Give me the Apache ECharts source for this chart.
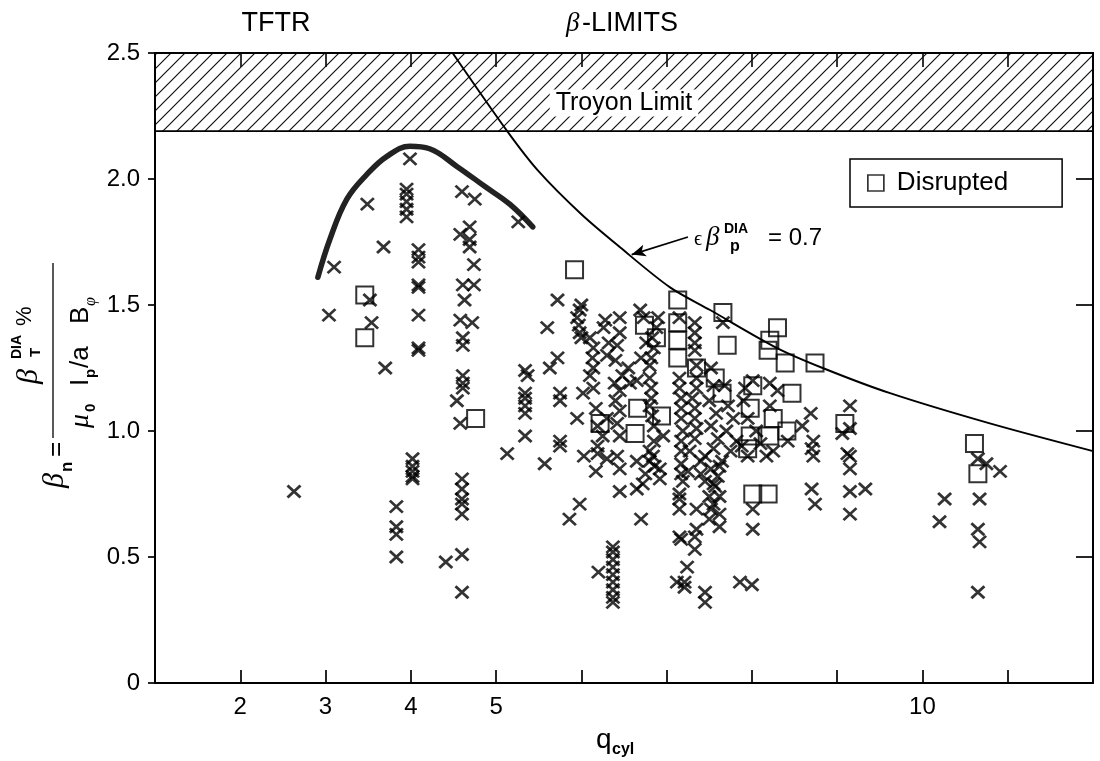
<!DOCTYPE html>
<html><head><meta charset="utf-8">
<script src="https://cdn.jsdelivr.net/npm/echarts/dist/echarts.min.js"></script>
<style>html,body{margin:0;padding:0;background:#fff}#c{width:1100px;height:761px}</style>
</head><body><div id="c"></div>
<script>
const FONT = '"Liberation Sans", Arial, Helvetica, sans-serif';
const SERIF = '"Liberation Serif", "Times New Roman", serif';
const INK = '#000000';

// ---- data ----
const xLabelValues = [2, 3, 4, 5, 10];
const troyonBand = [2.19, 2.5];
const epsCurve = [[4.49,2.50],[5.13,2.19],[5.50,2.03],[6.00,1.86],[6.45,1.73],[7.04,1.57],[7.51,1.48],[8.29,1.33],[8.83,1.25],[9.62,1.15],[10.79,1.03],[12.0,0.92]];
const thickCurve = [[2.91,1.61],[3.05,1.76],[3.25,1.92],[3.49,2.02],[3.72,2.09],[3.99,2.13],[4.22,2.12],[4.54,2.05],[4.87,1.97],[5.16,1.90],[5.43,1.81]];
const arrowTail = [7.25, 1.77];
const arrowTip = [6.59, 1.70];

const crossesLow = [
[2.63,0.76],[3.10,1.65],[3.04,1.46],[3.49,1.90],[3.68,1.73],[3.52,1.52],[3.54,1.43],[3.70,1.25],
[3.83,0.70],[3.83,0.62],[3.83,0.59],[3.83,0.50],
[3.99,2.08],[3.95,1.96],[3.95,1.94],[3.95,1.91],[3.95,1.88],[3.95,1.85],
[4.09,1.72],[4.09,1.69],[4.09,1.67],[4.09,1.58],[4.09,1.57],[4.09,1.46],[4.09,1.33],[4.09,1.32],
[4.02,0.89],[4.02,0.86],[4.02,0.84],[4.02,0.82],[4.02,0.81],
[4.41,0.48],
[4.60,1.95],[4.75,1.92],[4.69,1.81],[4.58,1.78],[4.69,1.76],[4.69,1.73],[4.74,1.66],[4.61,1.58],[4.74,1.58],[4.63,1.52],[4.58,1.44],[4.72,1.43],[4.61,1.37],[4.61,1.34],[4.61,1.22],[4.61,1.19],[4.61,1.17],[4.54,1.12],[4.58,1.03],
[4.60,0.81],[4.60,0.77],[4.60,0.73],[4.60,0.71],[4.60,0.67],[4.60,0.51],[4.60,0.36],
[5.26,1.83],[5.34,1.24],[5.37,1.22],[5.34,1.15],[5.34,1.13],[5.34,1.10],[5.34,1.07],[5.34,0.98],[5.13,0.91]
];
const crossesMid = [
[5.57,0.87],[5.60,1.41],[5.63,1.25],[5.72,1.29],[5.72,1.52],[6.00,1.50],[5.98,1.48],
[5.95,1.45],[5.97,1.42],[5.98,1.39],[6.00,1.37],
[6.10,1.37],[6.14,1.33],[6.13,1.29],[6.14,1.25],[6.10,1.22],
[6.28,1.44],[6.26,1.41],[6.32,1.35],[6.30,1.30],
[6.45,1.45],[6.45,1.39],[6.42,1.34],[6.40,1.28],[6.55,1.25],[6.48,1.22],
[5.75,1.15],[5.75,1.12],[5.95,1.05],[6.02,1.15],[6.14,1.17],[6.17,1.09],[6.19,1.02],[6.39,1.19],[6.45,1.16],[6.40,1.12],[6.45,1.08],[6.42,1.03],[6.45,0.98],[6.57,1.19],[6.65,1.20],[6.30,1.05],[6.25,0.98],
[5.75,0.96],[5.75,0.94],[6.19,0.94],[6.19,0.91],[6.42,0.90],
[5.98,0.71],[5.86,0.65],[6.03,0.90],[6.17,0.84],[6.30,0.89],[6.45,0.85],[6.45,0.76],[6.65,0.88],[6.65,0.77],[6.72,0.79],
[6.37,0.54],[6.37,0.52],[6.37,0.49],[6.37,0.46],[6.37,0.43],[6.37,0.40],[6.37,0.37],[6.37,0.34],[6.37,0.32],[6.20,0.44],
[6.70,0.65],
[6.69,1.48],[6.73,1.45],[6.83,1.37],[6.76,1.35],[6.70,1.29],[6.80,1.26],[6.80,1.21],[6.82,1.17],[6.82,1.13],[6.80,1.10],[6.83,1.06],[6.85,1.02],[6.85,0.96],[6.80,0.92],[6.96,0.98],[6.80,0.88],[6.92,0.85],[6.92,0.81],[6.75,0.83],
[6.90,1.45],[6.88,1.41],[6.85,1.33],[6.82,1.29],[6.84,0.90],[6.86,0.86]
];
const crossesHigh = [
[7.15,1.45],[7.15,1.21],[7.15,1.17],[7.17,1.13],[7.17,1.09],[7.17,1.05],[7.19,1.00],[7.17,0.96],[7.17,0.92],[7.17,0.87],[7.17,0.83],[7.19,0.80],[7.15,0.75],[7.15,0.73],[7.15,0.69],[7.15,0.58],[7.17,0.57],[7.12,0.40],[7.21,0.40],[7.21,0.38],
[7.33,1.43],[7.33,1.39],[7.33,1.35],[7.33,1.32],[7.35,1.26],[7.35,1.21],[7.35,1.17],[7.30,1.13],[7.33,1.09],[7.33,1.05],[7.35,1.01],[7.33,0.97],[7.35,0.69],[7.50,0.65],[7.35,0.61],[7.33,0.58],[7.33,0.53],[7.24,0.46],[7.45,0.36],[7.45,0.32],
[7.27,0.92],[7.45,0.90],[7.52,0.85],[7.55,0.79],[7.40,0.88],[7.25,0.84],[7.40,0.83],[7.45,0.80],[7.50,0.74],[7.52,0.69],
[7.66,1.43],[7.62,0.86],[7.60,0.82],[7.57,0.78],[7.62,0.74],[7.55,0.71],[7.62,0.67],[7.62,0.62],
[7.52,1.25],[7.55,1.18],[7.50,1.12],[7.58,1.07],[7.52,1.02],[7.60,0.97],[7.55,0.93],[7.68,1.18],[7.72,1.10],[7.78,1.05],[7.70,1.00],[7.82,0.96],[7.75,0.92],[7.88,0.94],[7.65,0.88],[7.90,1.12],[7.92,1.17],[7.95,1.05],[8.05,1.00],[8.10,0.95],
[8.01,1.20],[8.21,1.19],[8.30,1.16],[8.21,1.10],[8.42,0.96],[8.25,0.92],[7.95,0.90],[8.17,0.90],
[8.01,0.69],[8.01,0.61],[7.86,0.40],[8.00,0.39],
[8.69,1.07],[8.59,1.02],[8.72,0.96],[8.70,0.93],[8.72,0.90],[8.70,0.77],[8.74,0.71],
[9.15,1.10],[9.15,1.01],[9.06,0.99],[9.12,0.91],[9.15,0.90],[9.15,0.85],[9.15,0.76],[9.15,0.67],[9.33,0.77],
[10.26,0.73],[10.67,0.73],[10.20,0.64],[10.65,0.61],[10.67,0.56],[10.65,0.36],[10.65,0.89],[10.75,0.87],[10.91,0.84]
];
const disrupted = [
[3.46,1.54],[3.46,1.37],[4.76,1.05],[5.92,1.64],[7.13,1.52],[6.74,1.42],[6.88,1.37],[7.13,1.43],[7.13,1.36],[7.13,1.29],[7.35,1.25],
[6.66,1.09],[6.94,1.06],[6.22,1.03],[6.63,0.99],[7.66,1.47],[7.71,1.34],[8.30,1.41],[8.21,1.36],[8.19,1.32],[8.39,1.27],[8.74,1.27],
[8.47,1.15],[8.01,1.18],[7.65,1.15],[7.57,1.21],[7.98,1.09],[8.25,1.05],[7.98,0.98],[8.21,0.98],[7.95,0.93],[8.41,1.00],[9.09,1.03],
[8.01,0.75],[8.19,0.75],[10.61,0.95],[10.65,0.83]
];

// ---- hatch pattern ----
function hatchCanvas() {
  const c = document.createElement('canvas');
  c.width = 14; c.height = 14;
  const g = c.getContext('2d');
  g.strokeStyle = '#111'; g.lineWidth = 1.2;
  g.beginPath();
  g.moveTo(-1, 15); g.lineTo(15, -1);
  g.moveTo(-3, 3); g.lineTo(3, -3);
  g.moveTo(11, 17); g.lineTo(17, 11);
  g.stroke();
  return c;
}

const chart = echarts.init(document.getElementById('c'), null, {renderer: 'canvas'});
const crossSymbol = 'path://M0,0L10,10M10,0L0,10';
const crossStyle = {color: 'transparent', borderColor: INK, borderWidth: 2.7};

function tx(x, y, text, size, extra) {
  return {type: 'text', x: x, y: y, style: Object.assign({text: text, fontSize: size, fontFamily: FONT, fill: INK, align: 'left', verticalAlign: 'middle'}, extra || {})};
}

const option = {
  backgroundColor: '#fff',
  animation: false,
  grid: {left: 155, right: 7, top: 53, bottom: 78, containLabel: false},
  legend: {
    data: ['Disrupted'], left: 850, top: 159, selectedMode: false,
    itemWidth: 16, itemHeight: 16, icon: 'rect',
    padding: [11, 54, 11, 17],
    borderColor: INK, borderWidth: 1.5, backgroundColor: '#fff',
    itemStyle: {color: 'transparent', borderColor: INK, borderWidth: 1.7},
    textStyle: {fontSize: 26, fontFamily: FONT, color: INK, padding: [0, 0, 0, 8]}
  },
  xAxis: [{
    type: 'value', min: 1, max: 12, interval: 1, position: 'bottom',
    axisLine: {show: true, onZero: false, lineStyle: {color: INK, width: 2}},
    axisTick: {show: true, inside: true, length: 13, lineStyle: {color: INK, width: 1.7}},
    axisLabel: {formatter: v => xLabelValues.includes(v) ? String(v) : '', fontSize: 24, fontFamily: FONT, color: INK, margin: 12},
    splitLine: {show: false}
  }, {
    type: 'value', min: 1, max: 12, interval: 1, position: 'top',
    axisLine: {show: true, onZero: false, lineStyle: {color: INK, width: 2}},
    axisTick: {show: true, inside: true, length: 14, lineStyle: {color: INK, width: 1.6}},
    axisLabel: {show: false}, splitLine: {show: false}
  }],
  yAxis: [{
    type: 'value', min: 0, max: 2.5, interval: 0.5, position: 'left',
    axisLine: {show: true, onZero: false, lineStyle: {color: INK, width: 2}},
    axisTick: {show: true, inside: false, length: 7, lineStyle: {color: INK, width: 1.7}},
    axisLabel: {formatter: v => v === 0 ? '0' : v.toFixed(1), fontSize: 24, fontFamily: FONT, color: INK, margin: 15},
    splitLine: {show: false}
  }, {
    type: 'value', min: 0, max: 2.5, interval: 0.5, position: 'right',
    axisLine: {show: true, onZero: false, lineStyle: {color: INK, width: 2}},
    axisTick: {show: true, inside: true, length: 17, lineStyle: {color: INK, width: 1.7}},
    axisLabel: {show: false}, splitLine: {show: false}
  }],
  series: [{
    name: 'epsLimit', type: 'line', data: epsCurve, smooth: 0.3, showSymbol: false, symbol: 'none',
    lineStyle: {color: INK, width: 1.9}, z: 3, silent: true,
    markArea: {
      silent: true,
      itemStyle: {color: {image: hatchCanvas(), repeat: 'repeat'}, borderColor: INK, borderWidth: 1.7},
      label: {show: true, position: 'inside', formatter: 'Troyon Limit', fontSize: 25, fontFamily: FONT, color: INK,
        backgroundColor: '#fff', padding: [2, 6, 0, 6], offset: [0, 11]},
      data: [[{xAxis: 1, yAxis: troyonBand[0]}, {xAxis: 12, yAxis: troyonBand[1]}]]
    },
    markLine: {
      silent: true, symbol: ['none', 'arrow'], symbolSize: [9, 14],
      lineStyle: {color: INK, width: 1.7, type: 'solid', curveness: 0.12},
      label: {show: false},
      data: [[{coord: arrowTail}, {coord: arrowTip}]]
    }
  }, {
    name: 'envelope', type: 'line', data: thickCurve, smooth: 0.4, showSymbol: false, symbol: 'none',
    lineStyle: {color: '#222', width: 5.5, cap: 'round'}, z: 4, silent: true
  }, {
    name: 'crossesLow', type: 'scatter', data: crossesLow, symbol: crossSymbol, symbolSize: [13, 12], itemStyle: crossStyle, z: 5, silent: true
  }, {
    name: 'crossesMid', type: 'scatter', data: crossesMid, symbol: crossSymbol, symbolSize: [13, 12], itemStyle: crossStyle, z: 5, silent: true
  }, {
    name: 'crossesHigh', type: 'scatter', data: crossesHigh, symbol: crossSymbol, symbolSize: [13, 12], itemStyle: crossStyle, z: 5, silent: true
  }, {
    name: 'Disrupted', type: 'scatter', data: disrupted, symbol: 'rect', symbolSize: 17,
    itemStyle: {color: 'transparent', borderColor: INK, borderWidth: 2}, z: 6, silent: true
  }],
  graphic: [
    tx(276, 24, 'TFTR', 27, {align: 'center'}),
    tx(566, 24, 'β', 27, {fontFamily: SERIF, fontStyle: 'italic'}),
    tx(582, 24, '-LIMITS', 27),
    // x axis name
    tx(596, 740, 'q', 28),
    tx(612, 750, 'cyl', 16, {fontWeight: 'bold'}),
    // annotation
    tx(694, 240, 'ϵ', 20, {fontFamily: SERIF}),
    tx(706, 238, 'β', 27, {fontFamily: SERIF, fontStyle: 'italic'}),
    tx(724, 229, 'DIA', 14, {fontWeight: 'bold'}),
    tx(730, 247, 'p', 16, {fontWeight: 'bold'}),
    tx(768, 238, '= 0.7', 24),
    // y axis name (rotated)
    {
      type: 'group', x: 53, y: 484, rotation: Math.PI / 2,
      children: [
        tx(-4, 2, 'β', 30, {fontFamily: SERIF, fontStyle: 'italic'}),
        tx(12, 14, 'n', 17, {fontWeight: 'bold'}),
        tx(27, 4, '=', 26),
        {type: 'line', shape: {x1: 46, y1: 0, x2: 221, y2: 0}, style: {stroke: INK, lineWidth: 1.3}},
        tx(100, -24, 'β', 30, {fontFamily: SERIF, fontStyle: 'italic'}),
        tx(125, -36, 'DIA', 14, {fontWeight: 'bold'}),
        tx(127, -17, 'T', 15, {fontWeight: 'bold'}),
        tx(158, -28, '%', 22),
        tx(56, 28, 'μ', 28, {fontFamily: SERIF, fontStyle: 'italic'}),
        tx(72, 38, '0', 15, {fontWeight: 'bold'}),
        tx(98, 28, 'I', 26),
        tx(106, 38, 'p', 15, {fontWeight: 'bold'}),
        tx(116, 28, '/a', 26),
        tx(160, 28, 'B', 26),
        tx(178, 38, 'φ', 16, {fontFamily: SERIF, fontStyle: 'italic'})
      ]
    }
  ]
};
chart.setOption(option);
</script>
</body></html>
